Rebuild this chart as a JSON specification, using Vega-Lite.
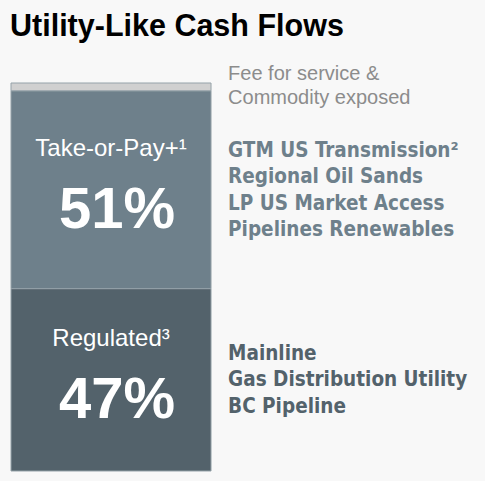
{
  "$schema": "https://vega.github.io/schema/vega-lite/v6.json",
  "autosize": {"type": "none"},
  "width": 474,
  "height": 388,
  "padding": {"top": 83, "left": 11, "right": 0, "bottom": 10},
  "background": "#f8f8f8",
  "title": {
    "text": "Utility-Like Cash Flows",
    "anchor": "start",
    "frame": "group",
    "baseline": "alphabetic",
    "offset": -3,
    "dx": -1,
    "font": "Liberation Sans",
    "fontSize": 30.5,
    "fontWeight": "bold",
    "color": "#000000"
  },
  "config": {"view": {"stroke": null}},
  "data": {
    "values": [
      {"segment": "Regulated", "share": 47, "ord": 1, "inner": "Regulated³", "pct": "47%", "items": ["Mainline", "Gas Distribution Utility", "BC Pipeline"]},
      {"segment": "Take-or-Pay", "share": 51, "ord": 2, "inner": "Take-or-Pay+¹", "pct": "51%", "items": ["GTM US Transmission²", "Regional Oil Sands", "LP US Market Access", "Pipelines Renewables"]},
      {"segment": "Fee for service & Commodity exposed", "share": 2, "ord": 3, "inner": "", "pct": "", "items": ["Fee for service &", "Commodity exposed"]}
    ]
  },
  "transform": [
    {"stack": "share", "groupby": [], "sort": [{"field": "ord"}], "as": ["y0", "y1"]},
    {"calculate": "(datum.y0 + datum.y1) / 2", "as": "mid"}
  ],
  "encoding": {
    "y": {"field": "mid", "type": "quantitative", "scale": {"domain": [0, 100], "nice": false, "zero": true}, "axis": null}
  },
  "layer": [
    {
      "mark": {"type": "bar", "stroke": "#95a2a9", "strokeWidth": 1},
      "encoding": {
        "x": {"datum": 0, "type": "quantitative", "scale": {"domain": [0, 100], "nice": false}, "axis": null},
        "x2": {"datum": 42.2},
        "y": {"field": "y0", "type": "quantitative"},
        "y2": {"field": "y1"},
        "color": {"field": "segment", "type": "nominal", "scale": {"domain": ["Regulated", "Take-or-Pay", "Fee for service & Commodity exposed"], "range": ["#53626b", "#6e808b", "#d0d0d0"]}, "legend": null}
      }
    },
    {
      "transform": [{"filter": "datum.inner != ''"}],
      "mark": {"type": "text", "font": "Liberation Sans", "fontSize": 24, "color": "#ffffff", "align": "center", "baseline": "middle", "dx": 0, "dy": -41},
      "encoding": {
        "x": {"datum": 21.1, "type": "quantitative"},
        "text": {"field": "inner"}
      }
    },
    {
      "transform": [{"filter": "datum.pct != ''"}],
      "mark": {"type": "text", "font": "Liberation Sans", "fontSize": 58, "fontWeight": "bold", "color": "#ffffff", "align": "center", "baseline": "middle", "dx": 6, "dy": 21},
      "encoding": {
        "x": {"datum": 21.1, "type": "quantitative"},
        "text": {"field": "pct"}
      }
    },
    {
      "transform": [{"filter": "datum.ord == 2"}],
      "mark": {"type": "text", "font": "Liberation Sans Narrow, DejaVu Sans Condensed, sans-serif", "fontSize": 20.5, "fontWeight": "bold", "align": "left", "baseline": "middle", "lineHeight": 26.5, "dy": -39},
      "encoding": {
        "x": {"datum": 45.8, "type": "quantitative"},
        "text": {"field": "items"},
        "color": {"field": "segment", "type": "nominal", "legend": null}
      }
    },
    {
      "transform": [{"filter": "datum.ord == 1"}],
      "mark": {"type": "text", "font": "Liberation Sans Narrow, DejaVu Sans Condensed, sans-serif", "fontSize": 20.5, "fontWeight": "bold", "align": "left", "baseline": "middle", "lineHeight": 26.5, "dy": -26},
      "encoding": {
        "x": {"datum": 45.8, "type": "quantitative"},
        "text": {"field": "items"},
        "color": {"field": "segment", "type": "nominal", "legend": null}
      }
    },
    {
      "transform": [{"filter": "datum.ord == 3"}],
      "mark": {"type": "text", "font": "Liberation Sans", "fontSize": 20, "color": "#8c8c8c", "align": "left", "baseline": "middle", "lineHeight": 24, "dy": -13},
      "encoding": {
        "x": {"datum": 45.8, "type": "quantitative"},
        "text": {"field": "items"}
      }
    }
  ]
}
